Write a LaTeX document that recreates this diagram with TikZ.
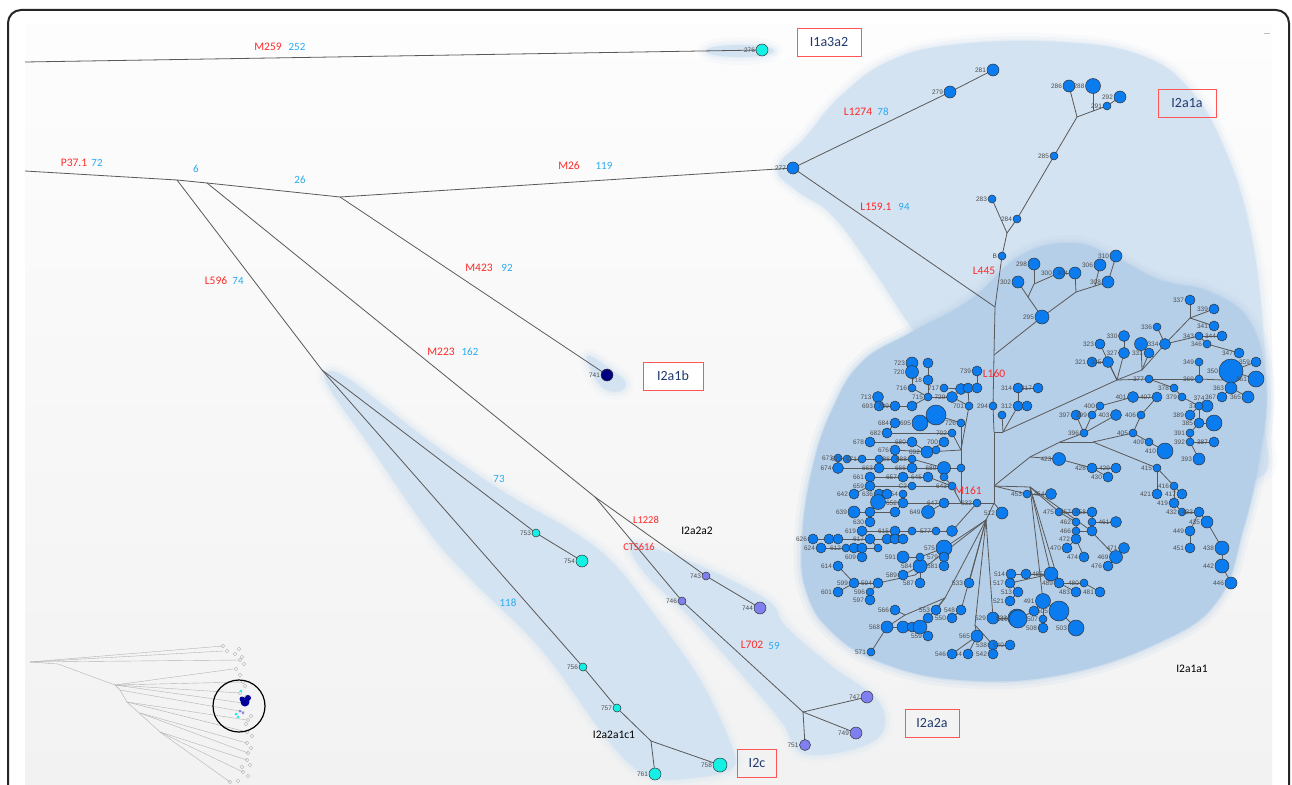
\documentclass[tikz,border=0pt]{standalone}
\usepackage{fontspec}
\setmainfont{Carlito}
\newfontfamily\nfont{Liberation Sans}
\definecolor{nodeblue}{HTML}{0A7CF0}
\definecolor{nodecyan}{HTML}{14F0E4}
\definecolor{nodepurple}{HTML}{7F7FF0}
\definecolor{nodenavy}{HTML}{000080}
\definecolor{lightreg}{HTML}{D4E3F1}
\definecolor{darkreg}{HTML}{B6CFE8}
\definecolor{redc}{HTML}{FF2A2A}
\definecolor{bluec}{HTML}{2AAAF0}
\definecolor{navytext}{HTML}{1F3A6E}
\definecolor{boxred}{HTML}{FF5555}
\pgfdeclarelayer{blobs}\pgfdeclarelayer{edges}
\pgfsetlayers{blobs,edges,main}
\tikzset{
  bnode/.style={circle, draw=black!80, line width=0.5pt, fill=nodeblue, inner sep=0pt},
  cnode/.style={bnode, fill=nodecyan},
  pnode/.style={bnode, fill=nodepurple},
  vnode/.style={bnode, fill=nodenavy},
  lbl/.style={font=\nfont\fontsize{6.5}{7}\selectfont, text=black!70, inner sep=0.6pt},
  edge/.style={draw=black!65, line width=0.8pt},
  rl/.style={font=\fontsize{11.5}{12}\selectfont, text=redc, inner sep=0pt},
  bl/.style={font=\fontsize{11}{12}\selectfont, text=bluec, inner sep=0pt},
  kl/.style={font=\fontsize{11.5}{12}\selectfont, text=black, inner sep=0pt},
  gbox/.style={draw=boxred, line width=0.8pt, text=navytext, font=\fontsize{14}{16}\selectfont, minimum height=28pt, inner sep=0pt},
  softa/.style={line width=16pt, opacity=0.12, line join=round},
  softb/.style={line width=9pt, opacity=0.2, line join=round},
  softc/.style={line width=3pt, opacity=0.35, line join=round},
}
\newcommand{\blob}[2]{%
  \draw[#1, softa] #2; \draw[#1, softb] #2; \draw[#1, softc] #2; \fill[#1] #2;}
\begin{document}
\begin{tikzpicture}[x=1pt,y=-1pt]
\useasboundingbox (0,0) rectangle (1292,784);
\begin{pgfonlayer}{blobs}
\fill[white] (0,0) rectangle (1292,784);
\shade[top color={rgb,255:red,253;green,253;blue,253}, bottom color={rgb,255:red,242;green,242;blue,242}] (25,25) rectangle (1272,784);
% I2a1a light region
\blob{lightreg}{plot[smooth cycle, tension=0.7] coordinates {(778,168) (805,138) (842,95) (892,60) (960,44) (1060,42) (1140,55) (1190,90) (1225,150) (1250,230) (1263,330) (1265,420) (1250,480) (1100,450) (955,385) (910,325) (872,268) (832,215) (796,190)}}
% I2a1a1 dark region
\blob{darkreg}{plot[smooth cycle, tension=0.7] coordinates {(802,540) (812,470) (832,410) (862,362) (912,332) (970,300) (1020,256) (1070,243) (1110,255) (1160,280) (1210,292) (1250,322) (1266,385) (1260,455) (1243,530) (1218,600) (1160,642) (1060,675) (960,680) (880,662) (830,630) (806,590)}}
% I1a3a2
\blob{lightreg}{(740,51) ellipse [x radius=34, y radius=6]}
% I2a1b
\blob{lightreg}{plot[smooth cycle, tension=0.7] coordinates {(588,356) (610,369) (625,382) (620,391) (605,389) (594,376)}}
% I2c band
\blob{lightreg}{plot[smooth cycle, tension=0.6] coordinates {(326,373) (350,380) (430,442) (505,493) (570,530) (612,562) (652,612) (700,680) (731,745) (732,768) (700,777) (652,777) (612,745) (542,650) (472,580) (430,533) (370,446) (332,392)}}
% I2a2a band
\blob{lightreg}{plot[smooth cycle, tension=0.6] coordinates {(634,544) (700,566) (768,601) (785,626) (830,665) (878,701) (882,733) (850,750) (802,753) (782,722) (740,672) (690,617) (644,572)}}
\end{pgfonlayer}
% frame
\draw[black!85, line width=2pt, rounded corners=13pt] (8,800) -- (8,10) -- (1289,10) -- (1289,800);
\draw[gray!50, line width=1pt] (1264,34) -- (1270,34);

% inset tree
\begin{scope}[black!30, line width=0.4pt]
\draw (30,662) -- (223,646);
\draw (30,662) -- (223,651);
\draw (30,662) -- (240,660);
\draw (30,662) -- (58,664) -- (115,685);
\draw (115,685) -- (233,669);
\draw (115,685) -- (243,682);
\draw (115,685) -- (240,693);
\draw (115,685) -- (243,703);
\draw (115,685) -- (120,690) -- (127,702) -- (160,732);
\draw (120,690) -- (245,712);
\draw (127,702) -- (247,720);
\draw (127,702) -- (247,732);
\draw (140,713) -- (247,743);
\draw (140,713) -- (248,753);
\draw (160,732) -- (247,760);
\draw (160,732) -- (243,772);
\draw (160,732) -- (230,782);
\foreach \px/\py in {223/646,227/651,235/654,240/660,242/657,236/669,240/675,243/682,245/686,240/693,246/697,248/720,251/716,247/732,252/736,247/743,251/748,248/753,247/760,250/765,243/772,248/776,230/782,238/781,244/664,239/649,246/724,242/767}
  \draw (\px,\py) circle (1.8);
\end{scope}
\draw[black, line width=1.2pt] (239,706) circle (26);
\fill[nodenavy!80!blue] (245,702) circle (4.5);
\fill[nodenavy!80!blue] (248,698) circle (3);
\fill[nodenavy!80!blue] (242,699) circle (2.5);
\fill[nodecyan] (241,691) circle (1.3);
\fill[nodecyan] (236,714) circle (1.5);
\fill[nodecyan] (238,717) circle (1.3);
\fill[nodepurple] (240,711) circle (1.5);
\fill[nodepurple] (243,713) circle (1.3);

% hub coordinates
\coordinate (sTop) at (25,62);
\coordinate (sP) at (25,171);
\coordinate (hA) at (177,180);
\coordinate (hB) at (207,183);
\coordinate (hC) at (340,197);
\coordinate (hD) at (322,370);
\coordinate (hE) at (651,741);
\coordinate (hF) at (595,497);
\coordinate (hG) at (803,712);
\coordinate (hH) at (995,307);
\coordinate (hJ2) at (1007,233);
\coordinate (hJ1) at (1077,117);
\coordinate (h288) at (1093,111);
\coordinate (hT1) at (994,355);
\coordinate (hK) at (1028,297);
\coordinate (hK2) at (1034,284);
\coordinate (hL) at (1076,292);
\coordinate (hL3) at (1095,286);
\coordinate (hT2) at (994,432);
\coordinate (hM) at (994,486);
\coordinate (hP) at (1003,432);
\coordinate (hR) at (1117,380);
\coordinate (hS) at (1142,370);
\coordinate (hX) at (1190,318);
\coordinate (hY) at (1222,380);
\coordinate (hQ0) at (1030,457);
\coordinate (hQ) at (1060,442);
\coordinate (hQ2) at (1093,442);
\coordinate (hN) at (1030,487);
\coordinate (hN2) at (1090,530);
\coordinate (hM2) at (994,503);
\coordinate (hU) at (961,503);
\coordinate (hV) at (961,450);
\coordinate (hD2) at (986,520);
\coordinate (h1) at (915,575);
\coordinate (h2) at (945,598);
\coordinate (hW) at (905,615);
\coordinate (h3) at (975,625);

% coloured leaves
\foreach \x/\y/\r/\l in {762/50/6/276, 536/533/4/753, 582/561/6/754, 583/667/4/756, 617/708/4/757, 720/765/7/758, 655/774/6/761}
  \node[cnode, minimum size={2*\r pt}, label={[lbl]left:\l}] (n\l) at (\x,\y) {};
\foreach \x/\y/\r/\l in {706/576/4/743, 760/608/6/744, 682/601/4/746, 867/697/6/747, 856/733/6/749, 805/745/5.5/751}
  \node[pnode, minimum size={2*\r pt}, label={[lbl]left:\l}] (n\l) at (\x,\y) {};
\node[vnode, minimum size=12pt, label={[lbl]left:741}] (n741) at (607,375) {};

% blue nodes with labels
\foreach \x/\y/\r/\l in {793/168/6/277, 950/92/6/279, 993/70/6/281, 1069/86/6/286, 1093/86/7.5/288, 1120/97/6/292, 1107/106/4/291, 1054/156/4/285, 992/199/4/283, 1017/219/4/284, 1002/256/4/B, 1034/264/6/298, 1018/282/6/302, 1059/273/6/300, 1075/273/6/304, 1100/265/6/306, 1116/256/6/310, 1108/282/6/308, 1042/317/7/295,
912/363/6/723, 912/372/6.5/720, 928/380/5/718, 912/388/4/716, 944/388/4/717, 977/371/5/739, 928/397/4/715, 952/397/5.5/729, 878/397/5.5/713, 879/406/5/693, 895/406/5/709, 920/423/8/695, 969/406/4/701, 895/423/5/684, 887/433/5/682, 961/423/4/726, 952/433/4/702, 870/442/5/678, 912/442/5/680, 944/442/5/700, 895/450/5/676, 927/452/6/692, 838/458/4/673, 847/459/4/672, 862/459/4/671, 895/459/4/686, 912/459/4/688, 838/468/5.5/674, 879/468/5/663, 912/468/5/666, 944/468/6.5/689, 870/477/5/661, 903/477/5/657, 928/477/5/645, 870/486/5/659, 912/486/4/C2, 952/486/4/643, 854/494/5/642, 879/494/5/636, 903/494/4/654, 903/503/5/652, 944/503/5/647, 977/503/4/632, 854/512/6/639, 928/512/6.5/649, 1002/513/6/512, 870/522/5/630,
862/531/5/619, 895/531/5/615, 936/531/4/577, 813/539/5/626, 870/539/5/617, 821/548/5/624, 846/548/4/612, 944/548/8/575, 862/557/5/609, 903/557/6/591, 944/557/5/579, 838/566/5/614, 920/566/7/584, 944/566/5/581, 903/575/5/589, 920/583/5/587, 854/583/5/599, 878/583/5/594, 838/592/5/601, 870/592/4/596, 870/600/5/597, 969/583/5/533, 895/610/5/566, 936/610/5/553, 961/610/5/548, 952/618/5/550, 887/627/6/568, 928/636/5/559, 871/652/4/571, 993/618/6/529, 1017/618/9/523, 977/636/6/565, 993/645/5/538, 1010/645/5/540, 993/654/5/542, 968/654/5/544, 952/654/5/546,
1027/494/4/453, 1051/494/5.5/454, 1059/512/4/475, 1076/512/4/457, 1092/512/5/458, 1076/522/4/462, 1116/522/5.5/461, 1076/531/4/466, 1076/539/5/472, 1067/548/5/470, 1124/548/5.5/471, 1084/557/5/474, 1116/557/6.5/469, 1108/566/5/476, 1011/574/5/514, 1051/574/7/485, 1010/583/5/517, 1059/583/5/489, 1084/583/4/480, 1018/592/5/513, 1076/592/5/483, 1100/592/5/481, 1010/601/5/521, 1043/601/7.5/491, 1059/611/10/505, 1018/619/9/510, 1043/619/4/507, 1043/628/5/508, 1076/628/8/503,
1018/388/5/314, 1038/388/5/317, 1018/406/5/312, 993/406/4/294, 1092/362/5/321, 1108/362/5.5/325, 1100/344/5/323, 1124/336/5.5/330, 1124/353/5.5/327, 1149/353/5/331, 1165/344/5.5/334, 1157/327/4/336, 1190/300/5/337, 1214/309/5/339, 1214/326/5/341, 1199/336/4/343, 1222/336/5/344, 1207/344/4/346, 1239/353/5/347, 1199/362/4/349, 1231/371/12/350, 1256/362/5/359, 1256/379/8/361, 1231/388/6/363, 1248/397/6/365, 1222/397/5/367, 1149/379/4/377, 1199/379/4/369, 1174/388/4/378, 1182/397/4/379, 1207/406/6/372, 1190/415/5/389, 1199/423/5/385, 1190/433/4/391, 1190/442/4/392, 1214/442/5/387, 1199/459/6/393, 1133/397/5.5/401, 1157/397/5/407, 1100/406/4/400, 1076/415/5/397, 1092/415/4/399, 1116/415/5.5/403, 1141/415/4/406, 1084/433/4/396, 1133/433/4/405, 1149/442/4/409, 1165/451/8/410, 1059/459/6.5/423, 1092/468/5/428, 1116/468/5/429, 1108/477/5/430, 1157/468/4/415, 1174/486/4/416, 1157/494/5/421, 1182/494/5/417, 1174/503/5/419, 1182/512/4/432, 1199/512/5/433, 1207/522/6/435, 1190/531/5/449, 1190/548/5/451, 1222/548/7/438, 1222/566/7/442, 1231/583/6/446}
  \node[bnode, minimum size={2*\r pt}, label={[lbl]left:\l}] (n\l) at (\x,\y) {};
\node[bnode, minimum size=8pt, label={[lbl]above:374}] (n374) at (1199,406) {};

% blue nodes without readable labels
\foreach \x/\y/\r/\n in {928/363/5/u1, 961/389/5.5/u2, 968/388/5/u3, 977/388/5/u4, 912/406/5/u5, 936/415/10/u697, 936/450/4/u6, 879/459/4/u7, 961/468/4/u8, 944/477/4/u9, 887/494/5/u10, 878/502/7.5/u11, 870/512/5/u12a, 895/512/5/u12, 912/531/4/u13, 952/531/5.5/u14, 829/539/5/u15, 838/539/5/u16, 887/539/5/u17, 895/539/5/u18, 903/539/5/u19, 854/548/5/u20, 862/548/5/u21, 878/548/4/u22, 920/557/4/u23, 928/618/5/u25, 903/627/6/u26, 912/627/5/u27, 920/627/7/u28, 1092/522/4/u29, 1092/531/5/u30, 1034/611/5/u31, 1027/406/5/u32, 1002/415/4/u33, 1141/344/6.5/u34, 1214/423/8/u35, 1026/574/5/u36}
  \node[bnode, minimum size={2*\r pt}] (\n) at (\x,\y) {};

% connectors
\begin{pgfonlayer}{edges}
\foreach \a/\b in {sTop/n276, sP/hA, hA/hB, hB/hC, hC/n277, hC/n741, hA/hD, hD/n753, n753/n754, hD/n756, n756/n757, n757/hE, hE/n761, hE/n758, hB/hF, hF/n743, n743/n744, hF/n746, n746/hG, hG/n747, hG/n749, hG/n751,
n277/n279, n279/n281, n277/hH, hH/nB, nB/hJ2, hJ2/n283, hJ2/n284, n284/n285, n285/hJ1, hJ1/n286, hJ1/h288, h288/n288, h288/n291, n291/n292,
hH/hT1, hT1/n295, n295/hK, hK/n302, hK/hK2, hK2/n298, hK2/n300, n300/n304, n295/hL, hL/n304, hL/hL3, hL3/n306, hL3/n308, n308/n310,
hT1/n294, n294/hT2, hT2/hM, hT2/hP, hP/u33, hP/n312, n312/n314, n314/n317, n312/u32,
hP/hR, hR/n325, n325/n321, hR/n323, hR/n327, n327/n330, hR/hS, hS/u34, hS/n331, hS/n334, n334/n336, n334/hX, hX/n337, hX/n339, hX/n341, n334/n343, n343/n344, n343/n346, n346/n347,
hR/n377, n377/n369, n369/hY, hY/n350, n350/n359, n350/n361, n350/n363, n363/n365, n363/n367, n369/n349, n377/n378, n378/n379, n379/n374, n374/n372, n374/n389, n374/n385, n385/u35, n385/n391, n391/n392, n392/n393, n392/n387,
hM/hQ0, hQ0/hQ, hQ/hQ2, hQ/n396, n396/n397, n396/n399, n399/n400, n400/n401, n401/n407, n396/n403, hQ2/n405, n405/n406, n406/n407, n405/n409, n409/n410, hQ2/n415, n415/n416, n416/n417, n415/n421, n416/n419, n419/n432, n432/n433, n433/n435, n435/n438, n438/n442, n442/n446, n433/n449, n449/n451,
hQ0/n423, n423/n428, n428/n429, n428/n430,
hM/n453, n453/n454, hM/hN, hN/n475, n475/n457, n457/n458, n458/u29, u29/n461, n475/n462, n462/n466, n466/u30, n466/n472, n472/n470, n472/n474, hN/hN2, hN2/n469, n469/n471, n469/n476, hN/n485, n485/n514, n514/u36, n485/n517, n517/n513, n513/n521, hN/n489, n489/n480, n480/n481, n489/n483, hN/n491, n491/u31, u31/n510, n491/n507, n507/n508, n491/n505, n505/n503,
hM/hM2, hM2/n632, n632/hU, hU/u8, u8/hV, hV/n701, n701/u3, u3/u2, u2/n717, u3/u4, u4/n739, hV/n726, n726/u697, u697/n695, hV/n702, n702/n682, n682/n684, hV/n692, n692/n676, n692/n680, n680/n678, n692/u6, n692/n700, u8/n689, n689/n688, n688/n686, n686/u7, u7/n671, n671/n672, n672/n673, n689/n666, n666/n663, n663/n674, hU/n643, n643/u9, n643/n645, n645/n657, n657/n661, n643/nC2, nC2/n659, n659/n642,
n701/n729, n729/n715, n715/u5, u5/n709, n709/n693, n693/n713, n715/n718, n718/u1, n715/n716, n716/n720, n720/n723,
n632/n647, n647/n649, n647/n652, n652/n654, n652/u11, u11/n636, n636/u10, n652/u12, u12/u12a, u12a/n639, u12a/n630,
hM2/n512, n632/u14, u14/n577, n577/u13, u13/n615, n615/n619, n615/u18, u18/u17, u18/u19, u17/n617, n617/u16, u16/u15, u15/n626, n617/u22, u22/u21, u21/u20, u20/n612, n612/n624, u21/n609,
hM2/hD2, hD2/n575, n575/n579, n579/n581, n575/u23, u23/n591, u23/n584, n584/n589, n584/n587,
hD2/h1, h1/n594, n594/n599, n599/n614, n599/n601, n594/n596, n596/n597,
hD2/h2, h2/n553, h2/u25, h2/hW, hW/n566, hW/n568, n568/u26, u26/u27, u27/u28, u28/n559, n568/n571,
hD2/n548, n548/n550, hD2/n533, hD2/h3, h3/n565, n565/n544, n565/n546, h3/n538, n538/n542, n538/n540, hD2/n529, n529/n523}
  \draw[edge] (\a.center) -- (\b.center);
\end{pgfonlayer}

% branch labels
\node[rl] (tM259) at (268,47) {M259};
\node[bl] (t252) at (297,47) {252};
\node[rl] (tP371) at (74,163) {P37.1};
\node[bl] (t72) at (97,163) {72};
\node[bl] (t6) at (196,169) {6};
\node[bl] (t26) at (300,180) {26};
\node[rl] (tM26) at (569,166) {M26};
\node[bl] (t119) at (604,166) {119};
\node[rl] (tM423) at (479,268) {M423};
\node[bl] (t92) at (507,268) {92};
\node[rl] (tL596) at (216,281) {L596};
\node[bl] (t74) at (238,281) {74};
\node[rl] (tM223) at (441,352) {M223};
\node[bl] (t162) at (470,352) {162};
\node[bl] (t73) at (499,479) {73};
\node[bl] (t118) at (508,603) {118};
\node[rl, font=\fontsize{10.5}{12}\selectfont] (tL1228) at (646,520) {L1228};
\node[rl, font=\fontsize{10.5}{12}\selectfont] (tCTS616) at (639,547) {CTS616};
\node[rl] (tL702) at (752,645) {L702};
\node[bl] (t59) at (774,646) {59};
\node[rl] (tL1274) at (858,112) {L1274};
\node[bl] (t78) at (883,112) {78};
\node[rl] (tL1591) at (876,207) {L159.1};
\node[bl] (t94) at (904,207) {94};
\node[rl] (tL445) at (984,271) {L445};
\node[rl] (tL160) at (994,374) {L160};
\node[rl] (tM161) at (968,491) {M161};
\node[kl] (tI2a2a2) at (697,531) {I2a2a2};
\node[kl] (tI2a1a1) at (1192,669) {I2a1a1};
\node[kl] (tI2a2a1c1) at (614,735) {I2a2a1c1};

% haplogroup boxes
\node[gbox, fill=white, minimum width=64pt] (bI1a3a2) at (829,42) {I1a3a2};
\node[gbox, minimum width=58pt] (bI2a1a) at (1187,103) {I2a1a};
\node[gbox, fill=white, minimum width=60pt] (bI2a1b) at (673,376) {I2a1b};
\node[gbox, minimum width=39pt] (bI2c) at (757,763) {I2c};
\node[gbox, minimum width=54pt] (bI2a2a) at (932,723) {I2a2a};
\end{tikzpicture}
\end{document}
